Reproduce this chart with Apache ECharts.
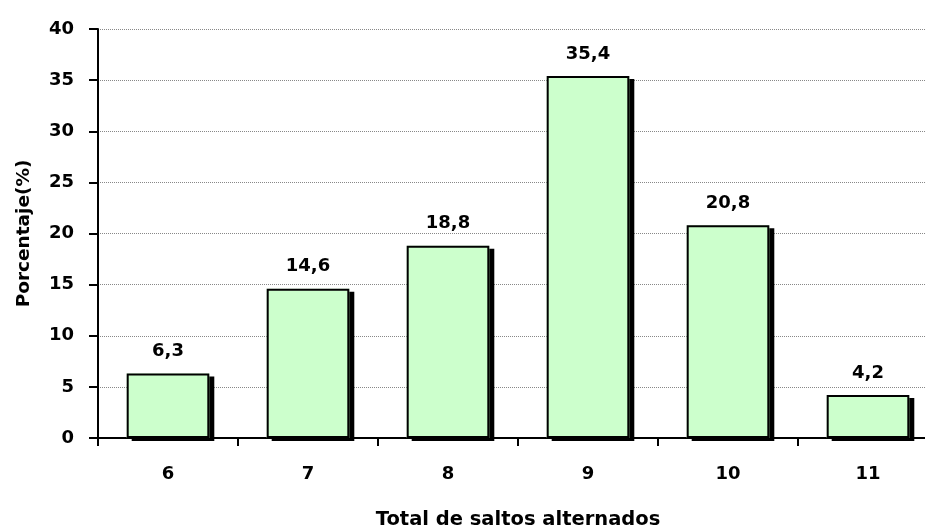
<!DOCTYPE html>
<html>
<head>
<meta charset="utf-8">
<script src="https://cdn.jsdelivr.net/npm/echarts@6/dist/echarts.min.js"></script>
<style>
  html, body { margin: 0; padding: 0; background: #fff; }
  #chart { width: 925px; height: 530px; }
</style>
</head>
<body>
<div id="chart"></div>
<script>
// saltos alternados
var categories = ['6', '7', '8', '9', '10', '11'];
var porcentajes = [6.3, 14.6, 18.8, 35.4, 20.8, 4.2];
var yTicks = [0, 5, 10, 15, 20, 25, 30, 35, 40];

var chart = echarts.init(document.getElementById('chart'));
var fontBold = { fontFamily: 'DejaVu Sans', fontWeight: 'bold', color: '#000' };

var option = {
    animation: false,
    grid: { left: 98, right: -13, top: 29, bottom: 92, containLabel: false, outerBoundsMode: 'none' },
    xAxis: {
        type: 'category',
        data: categories,
        name: 'Total de saltos alternados',
        nameLocation: 'middle',
        nameGap: 72,
        nameTextStyle: Object.assign({ fontSize: 19.5 }, fontBold),
        axisLine: { lineStyle: { color: '#000', width: 2 } },
        axisTick: { show: true, length: 8, lineStyle: { color: '#000', width: 2 } },
        axisLabel: Object.assign({ fontSize: 18, margin: 27 }, fontBold),
        splitLine: { show: false }
    },
    yAxis: {
        type: 'value',
        min: yTicks[0],
        max: yTicks[yTicks.length - 1],
        interval: 5,
        name: 'Porcentaje(%)',
        nameLocation: 'middle',
        nameGap: 64,
        nameTextStyle: Object.assign({ fontSize: 18.5 }, fontBold),
        axisLine: { show: true, lineStyle: { color: '#000', width: 2 } },
        axisTick: { show: true, length: 9, lineStyle: { color: '#000', width: 2 } },
        axisLabel: Object.assign({ fontSize: 18, margin: 24 }, fontBold),
        splitLine: { show: true, lineStyle: { color: '#888', type: 'dotted', width: 1 } }
    },
    series: [
        {
            // relleno con sombra
            type: 'bar',
            data: porcentajes,
            barWidth: '59%',
            z: 2,
            itemStyle: {
                color: '#CCFFCC',
                borderWidth: 0,
                shadowColor: '#000',
                shadowBlur: 0,
                shadowOffsetX: 5,
                shadowOffsetY: 3
            }
        },
        {
            // borde negro
            type: 'bar',
            data: porcentajes,
            barWidth: '59%',
            barGap: '-100%',
            z: 3,
            itemStyle: {
                color: 'rgba(0,0,0,0)',
                borderColor: '#000',
                borderWidth: 2
            },
            label: {
                show: true,
                position: 'top',
                distance: 13,
                fontSize: 18,
                fontFamily: 'DejaVu Sans',
                fontWeight: 'bold',
                color: '#000',
                formatter: function (p) { return String(p.value).replace('.', ','); }
            }
        }
    ]
};
chart.setOption(option);
</script>
</body>
</html>
